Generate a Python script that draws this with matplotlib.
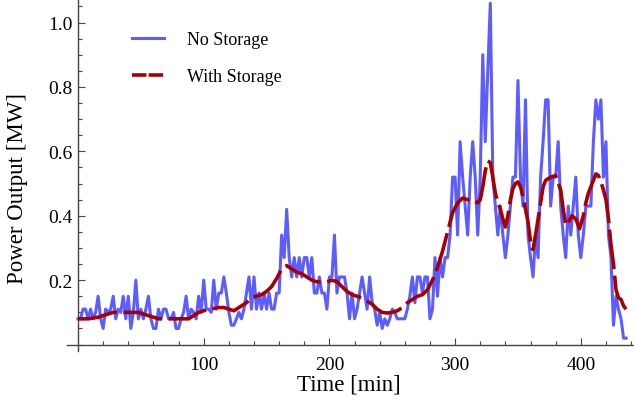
import numpy as np
import matplotlib
matplotlib.use("Agg")
import matplotlib.pyplot as plt
from matplotlib.lines import Line2D
from matplotlib.ticker import MultipleLocator, FixedLocator

# power output without storage, one value every 2 minutes starting at t=0
no_storage_mw = [
    0.08, 0.08, 0.11, 0.11, 0.08, 0.11, 0.08, 0.10, 0.15, 0.08,
    0.05, 0.11, 0.10, 0.11, 0.15, 0.08, 0.11, 0.10, 0.15, 0.08,
    0.15, 0.05, 0.10, 0.20, 0.08, 0.11, 0.08, 0.11, 0.15, 0.08,
    0.05, 0.05, 0.11, 0.08, 0.11, 0.11, 0.08, 0.08, 0.10, 0.05,
    0.05, 0.08, 0.10, 0.15, 0.08, 0.11, 0.10, 0.08, 0.15, 0.10,
    0.20, 0.11, 0.11, 0.10, 0.20, 0.11, 0.16, 0.16, 0.21, 0.16,
    0.10, 0.06, 0.06, 0.08, 0.10, 0.08, 0.11, 0.16, 0.21, 0.11,
    0.21, 0.11, 0.16, 0.11, 0.16, 0.11, 0.16, 0.11, 0.11, 0.16,
    0.16, 0.34, 0.27, 0.42, 0.27, 0.21, 0.27, 0.21, 0.27, 0.21,
    0.27, 0.27, 0.21, 0.27, 0.16, 0.16, 0.21, 0.16, 0.16, 0.11,
    0.21, 0.21, 0.34, 0.16, 0.21, 0.21, 0.21, 0.16, 0.08, 0.16,
    0.08, 0.11, 0.16, 0.21, 0.16, 0.11, 0.21, 0.13, 0.11, 0.06,
    0.10, 0.05, 0.08, 0.06, 0.08, 0.11, 0.10, 0.08, 0.08, 0.08,
    0.08, 0.11, 0.15, 0.21, 0.13, 0.21, 0.21, 0.16, 0.21, 0.21,
    0.08, 0.11, 0.27, 0.15, 0.27, 0.21, 0.27, 0.27, 0.34, 0.52,
    0.52, 0.34, 0.63, 0.52, 0.43, 0.34, 0.52, 0.63, 0.52, 0.34,
    0.52, 0.90, 0.63, 0.85, 1.06, 0.52, 0.43, 0.34, 0.43, 0.34,
    0.27, 0.34, 0.43, 0.52, 0.52, 0.82, 0.52, 0.43, 0.76, 0.34,
    0.27, 0.21, 0.34, 0.27, 0.52, 0.63, 0.76, 0.76, 0.43, 0.52,
    0.52, 0.63, 0.43, 0.34, 0.27, 0.43, 0.34, 0.43, 0.52, 0.34,
    0.27, 0.34, 0.43, 0.43, 0.43, 0.63, 0.76, 0.70, 0.76, 0.52,
    0.63, 0.34, 0.27, 0.06, 0.15, 0.11, 0.08, 0.02, 0.02,
]
no_storage_min = np.arange(len(no_storage_mw)) * 2

# smoothed output with storage
with_storage_min = [
    0, 8, 16, 20, 24, 28, 32, 36, 40, 44, 48, 52, 56, 60, 64, 68, 72, 76,
    80, 84, 88, 92, 96, 100, 104, 108, 112, 116, 120, 124, 130, 134, 138,
    142, 146, 150, 154, 158, 162, 166, 170, 174, 178, 182, 186, 190, 194,
    198, 202, 206, 210, 214, 218, 222, 226, 230, 234, 238, 242, 246, 250,
    254, 258, 262, 266, 270, 274, 278, 282, 286, 290, 294, 298, 302, 306,
    310, 314, 318, 320, 322, 324, 326, 328, 330, 332, 334, 336, 338, 340,
    342, 344, 346, 348, 350, 352, 354, 356, 358, 360, 362, 364, 366, 368,
    370, 372, 376, 380, 384, 386, 388, 390, 393, 396, 399, 402, 404, 406,
    408, 410, 412, 414, 416, 418, 420, 422, 424, 426, 428, 430, 432, 434,
    436,
]
with_storage_mw = [
    0.08, 0.08, 0.085, 0.09, 0.095, 0.10, 0.10, 0.10, 0.10, 0.10, 0.10,
    0.095, 0.09, 0.085, 0.08, 0.08, 0.08, 0.08, 0.08, 0.08, 0.08, 0.09,
    0.10, 0.105, 0.11, 0.112, 0.115, 0.115, 0.11, 0.105, 0.12, 0.13,
    0.145, 0.15, 0.155, 0.165, 0.18, 0.205, 0.235, 0.245, 0.235, 0.225,
    0.22, 0.21, 0.20, 0.195, 0.195, 0.195, 0.20, 0.195, 0.18, 0.165,
    0.155, 0.15, 0.145, 0.135, 0.125, 0.11, 0.10, 0.098, 0.10, 0.105,
    0.115, 0.13, 0.14, 0.15, 0.155, 0.17, 0.20, 0.24, 0.29, 0.35, 0.41,
    0.44, 0.455, 0.45, 0.45, 0.44, 0.45, 0.49, 0.54, 0.57, 0.565, 0.52,
    0.47, 0.44, 0.42, 0.39, 0.365, 0.40, 0.45, 0.485, 0.50, 0.505, 0.49,
    0.46, 0.42, 0.38, 0.32, 0.295, 0.34, 0.39, 0.44, 0.49, 0.51, 0.52,
    0.525, 0.48, 0.42, 0.37, 0.38, 0.40, 0.39, 0.36, 0.40, 0.44, 0.47,
    0.49, 0.51, 0.53, 0.525, 0.505, 0.48, 0.45, 0.39, 0.31, 0.25, 0.17,
    0.145, 0.14, 0.12, 0.11,
]

x_major = [100, 200, 300, 400]
y_major = [0.2, 0.4, 0.6, 0.8, 1.0]

blue = "#5c5cff"
dark_red = "#a80000"
axis_grey = "#444444"

plt.rcParams["font.family"] = ["Liberation Serif", "DejaVu Serif"]

fig = plt.figure(figsize=(6.34, 4.10), dpi=100)
ax = fig.add_axes([66.7 / 634, 1 - 352 / 410, (633.6 - 66.7) / 634, 351 / 410])

ax.plot(no_storage_min, no_storage_mw, color=blue, lw=2.2, zorder=2)
ax.plot(with_storage_min, with_storage_mw, color=dark_red, lw=2.6,
        linestyle=(0, (11, 1.8)), zorder=3)

ax.set_xlim(-9, 442)
ax.set_ylim(-0.02, 1.07)

for side in ["top", "right"]:
    ax.spines[side].set_visible(False)
ax.spines["left"].set_position(("data", 0))
ax.spines["bottom"].set_position(("data", 0))
for side in ["left", "bottom"]:
    ax.spines[side].set_color(axis_grey)
    ax.spines[side].set_linewidth(1.0)

ax.xaxis.set_major_locator(FixedLocator(x_major))
ax.xaxis.set_minor_locator(MultipleLocator(20))
ax.yaxis.set_major_locator(FixedLocator(y_major))
ax.yaxis.set_minor_locator(MultipleLocator(0.05))
ax.set_yticklabels([f"{v:.1f}" for v in y_major])

ax.tick_params(which="both", direction="in", color=axis_grey, width=0.8, labelsize=14)
ax.tick_params(which="major", length=5)
ax.tick_params(which="minor", length=3)
ax.tick_params(axis="x", pad=8)
ax.tick_params(axis="y", pad=4)

fig.text(349 / 634, 1 - 385 / 410, "Time [min]", ha="center", va="center", fontsize=16.5)
fig.text(17.5 / 634, 1 - 188 / 410, "Power Output [MW]", ha="center", va="center",
         rotation=90, fontsize=16.5)

handles = [
    Line2D([], [], color=blue, lw=2.2),
    Line2D([], [], color=dark_red, lw=2.6, linestyle=(0, (4, 0.6))),
]
ax.legend(handles, ["No Storage", "With Storage"], loc="upper left",
          bbox_to_anchor=(132 / 634, 1 - 32 / 410), bbox_transform=fig.transFigure,
          frameon=False, fontsize=13, handlelength=1.75, handletextpad=1.3,
          labelspacing=1.1, borderpad=0, borderaxespad=0)

fig.savefig("out.png", dpi=100)
